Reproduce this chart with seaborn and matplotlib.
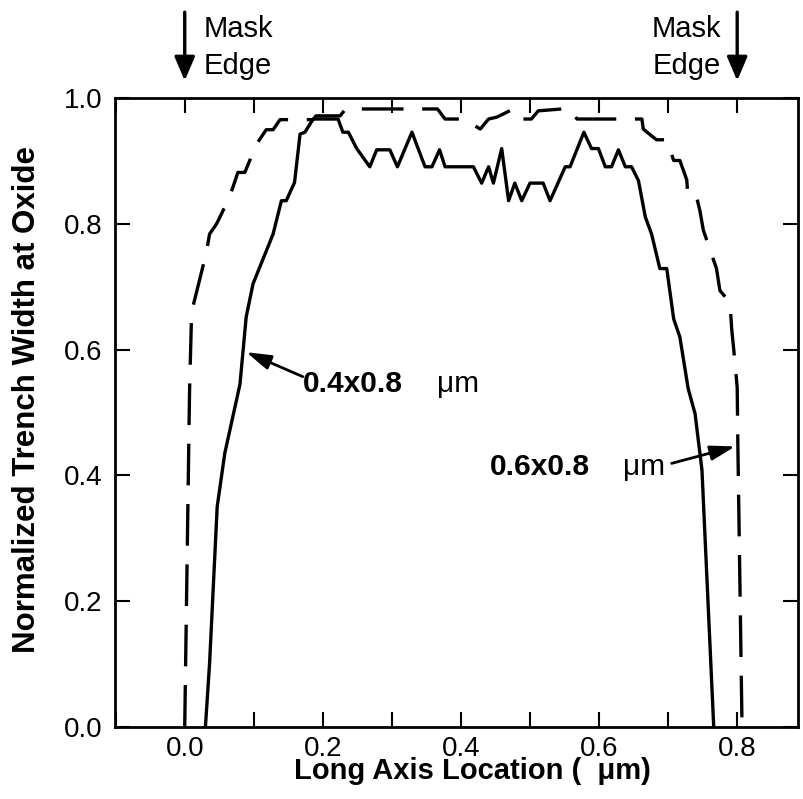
import matplotlib
matplotlib.use("Agg")
import matplotlib.pyplot as plt
import seaborn as sns
import pandas as pd
from matplotlib.ticker import MultipleLocator

# ---- data ----
solid_x = [0.030, 0.036, 0.047, 0.058, 0.080, 0.089, 0.099, 0.128, 0.140, 0.147,
           0.159, 0.167, 0.174, 0.186, 0.222, 0.229, 0.237, 0.249, 0.268, 0.278,
           0.297, 0.308, 0.329, 0.348, 0.358, 0.369, 0.377, 0.418, 0.430, 0.440,
           0.447, 0.459, 0.469, 0.478, 0.488, 0.500, 0.519, 0.529, 0.551, 0.558,
           0.578, 0.589, 0.599, 0.609, 0.618, 0.628, 0.638, 0.647, 0.657, 0.667,
           0.676, 0.688, 0.698, 0.708, 0.717, 0.729, 0.739, 0.749, 0.766]
solid_y = [0.000, 0.101, 0.350, 0.435, 0.545, 0.652, 0.705, 0.784, 0.837, 0.837,
           0.866, 0.943, 0.946, 0.967, 0.967, 0.946, 0.946, 0.920, 0.891, 0.918,
           0.918, 0.891, 0.946, 0.891, 0.891, 0.918, 0.891, 0.891, 0.865, 0.891,
           0.865, 0.920, 0.837, 0.865, 0.837, 0.865, 0.865, 0.837, 0.891, 0.891,
           0.946, 0.920, 0.920, 0.891, 0.891, 0.918, 0.891, 0.891, 0.869, 0.811,
           0.784, 0.729, 0.729, 0.649, 0.620, 0.538, 0.498, 0.408, 0.000]

dashed_x = [0.000, 0.007, 0.010, 0.031, 0.036, 0.046, 0.051, 0.065, 0.077, 0.087,
            0.104, 0.118, 0.128, 0.138, 0.186, 0.190, 0.225, 0.233, 0.366, 0.377,
            0.404, 0.428, 0.440, 0.452, 0.476, 0.488, 0.502, 0.512, 0.546, 0.558,
            0.568, 0.662, 0.664, 0.683, 0.698, 0.708, 0.717, 0.727, 0.728, 0.739,
            0.746, 0.751, 0.770, 0.775, 0.785, 0.790, 0.792, 0.795, 0.800, 0.801,
            0.807]
dashed_y = [0.000, 0.535, 0.660, 0.753, 0.784, 0.800, 0.811, 0.843, 0.882, 0.882,
            0.927, 0.950, 0.950, 0.966, 0.966, 0.972, 0.972, 0.983, 0.983, 0.967,
            0.967, 0.951, 0.967, 0.970, 0.983, 0.967, 0.967, 0.980, 0.983, 0.983,
            0.967, 0.967, 0.951, 0.934, 0.934, 0.901, 0.901, 0.870, 0.853, 0.853,
            0.821, 0.790, 0.729, 0.694, 0.681, 0.668, 0.633, 0.600, 0.540, 0.445,
            0.000]

x_ticks = [0.0, 0.2, 0.4, 0.6, 0.8]
y_ticks = [0.0, 0.2, 0.4, 0.6, 0.8, 1.0]

# ---- style ----
sns.set_style("ticks")
plt.rcParams['font.family'] = ['Liberation Sans', 'DejaVu Sans']
plt.rcParams.update({"text.color": "black", "axes.labelcolor": "black",
                     "xtick.color": "black", "ytick.color": "black",
                     "axes.edgecolor": "black"})

fig = plt.figure(figsize=(8.04, 7.99), dpi=100)
ax = fig.add_axes([0.143, 0.0905, 0.8495, 0.7865])

df_s = pd.DataFrame({"x": solid_x, "y": solid_y})
df_d = pd.DataFrame({"x": dashed_x, "y": dashed_y})

sns.lineplot(data=df_s, x="x", y="y", sort=False, estimator=None, ax=ax,
             color="black", lw=2.4)
sns.lineplot(data=df_d, x="x", y="y", sort=False, estimator=None, ax=ax,
             color="black", lw=2.4)
ax.lines[1].set_dashes([12.5, 5.6])

ax.set_xlim(-0.101, 0.888)
ax.set_ylim(0.0, 1.0)
ax.set_xticks(x_ticks)
ax.set_xticklabels([f"{v:.1f}" for v in x_ticks])
ax.xaxis.set_minor_locator(MultipleLocator(0.1))
ax.set_yticks(y_ticks)
ax.set_yticklabels([f"{v:.1f}" for v in y_ticks])

for s in ax.spines.values():
    s.set_linewidth(2.0)
    s.set_visible(True)
    s.set_color("black")

ax.tick_params(which="both", direction="in", top=True, right=True,
               length=11, width=1.5, color="black")
ax.tick_params(axis="both", which="major", labelsize=20)
ax.tick_params(axis="y", which="major", pad=9)
ax.tick_params(axis="x", which="major", pad=7)

ax.set_xlabel("Long Axis Location (  \u03bcm)", fontsize=21, fontweight="bold")
ax.set_ylabel("Normalized Trench Width at Oxide", fontsize=22.5, fontweight="bold")
ax.xaxis.set_label_coords(0.523, -0.049)
ax.yaxis.set_label_coords(-0.107, 0.52)

# ---- series labels with arrows ----
arrow_kw = dict(arrowstyle="-|>,head_length=1.5,head_width=0.45", color="black",
                lw=2, shrinkA=0, shrinkB=0)
ax.annotate("", xy=(0.089, 0.596), xytext=(0.171, 0.557), arrowprops=arrow_kw)
ax.text(0.171, 0.533, "0.4x0.8", fontsize=21.5, fontweight="bold",
        ha="left", va="baseline")
ax.text(0.365, 0.533, "\u03bcm", fontsize=21.5, ha="left", va="baseline")

ax.annotate("", xy=(0.797, 0.446), xytext=(0.705, 0.419), arrowprops=arrow_kw)
ax.text(0.442, 0.400, "0.6x0.8", fontsize=21.5, fontweight="bold",
        ha="left", va="baseline")
ax.text(0.635, 0.400, "\u03bcm", fontsize=21.5, ha="left", va="baseline")

# ---- mask edge markers ----
mask_kw = dict(arrowstyle="-|>,head_length=1.45,head_width=0.62", color="black",
               lw=2.4, shrinkA=0, shrinkB=0)
ax.annotate("", xy=(0.0, 1.028), xytext=(0.0, 1.137), arrowprops=mask_kw,
            annotation_clip=False)
ax.annotate("", xy=(0.800, 1.028), xytext=(0.800, 1.137), arrowprops=mask_kw,
            annotation_clip=False)
ax.text(0.028, 1.097, "Mask", fontsize=21, ha="left", va="baseline", clip_on=False)
ax.text(0.028, 1.039, "Edge", fontsize=21, ha="left", va="baseline", clip_on=False)
ax.text(0.777, 1.097, "Mask", fontsize=21, ha="right", va="baseline", clip_on=False)
ax.text(0.777, 1.039, "Edge", fontsize=21, ha="right", va="baseline", clip_on=False)

fig.savefig("out.png", dpi=100)
